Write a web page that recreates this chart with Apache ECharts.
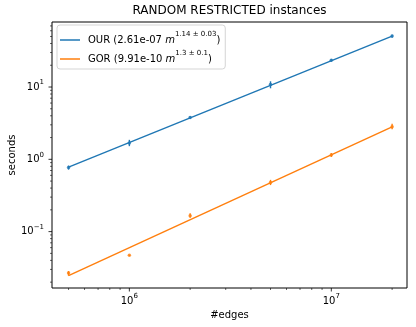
<!DOCTYPE html>
<html>
<head>
<meta charset="UTF-8">
<title>RANDOM RESTRICTED instances</title>
<script src="https://cdn.jsdelivr.net/npm/echarts@6/dist/echarts.min.js"></script>
<style>
  html, body { margin: 0; padding: 0; background: #fff; }
  #main { width: 416px; height: 327px; }
</style>
</head>
<body>
<div id="main"></div>
<script>
// number of edges in each instance size
var edges = [5e5, 1e6, 2e6, 5e6, 1e7, 2e7]

var ourTime = [0.77, 1.68, 3.8, 10.8, 23.4, 50.7]
var ourLow = [0.72, 1.52, 3.65, 9.6, 22.5, 48]
var ourHigh = [0.82, 1.86, 3.95, 12.0, 24.3, 53]

var gorTime = [0.0267, 0.047, 0.166, 0.476, 1.15, 2.83]
var gorLow = [0.0245, 0.046, 0.155, 0.44, 1.08, 2.6]
var gorHigh = [0.0285, 0.048, 0.18, 0.52, 1.22, 3.1]

// fitted power-law lines, end points
var fitX = [5e5, 2e7]
var ourFit = [0.78, 50.7]
var gorFit = [0.0246, 2.8]

// legend text
var seriesNames = ['OUR', 'GOR']
var fitCoef = ['2.61e-07', '9.91e-10']
var fitExp = ['1.14 \u00b1 0.03', '1.3 \u00b1 0.1']

// tick positions
var xMajor = [1e6, 1e7]
var xMinor = [5e5, 6e5, 7e5, 8e5, 9e5, 2e6, 3e6, 4e6, 5e6, 6e6, 7e6, 8e6, 9e6, 2e7]
var yMajor = [0.1, 1, 10]
var yMinor = [0.02, 0.03, 0.04, 0.05, 0.06, 0.07, 0.08, 0.09,
              0.2, 0.3, 0.4, 0.5, 0.6, 0.7, 0.8, 0.9,
              2, 3, 4, 5, 6, 7, 8, 9,
              20, 30, 40, 50, 60, 70]

var BLUE = '#1f77b4'
var ORANGE = '#ff7f0e'
var FONT = 'DejaVu Sans'

function zip(a, b) {
  return a.map(function (v, i) { return [v, b[i]] })
}
function zip3(a, b, c) {
  return a.map(function (v, i) { return [v, b[i], c[i]] })
}

// 10^n label, skip anything that is not a power of ten
function powLabel(v) {
  var e = Math.log10(v)
  var r = Math.round(e)
  if (Math.abs(e - r) > 1e-6) return ''
  return '{b|10}{sup|' + (r < 0 ? '\u2212' + (-r) : r) + '}'
}

function xTick(len, w) {
  return function (params, api) {
    var p = api.coord([api.value(0), 1])
    var cs = params.coordSys
    var y0 = cs.y + cs.height
    return {
      type: 'line',
      shape: { x1: p[0], y1: y0, x2: p[0], y2: y0 + len },
      style: { stroke: '#000', lineWidth: w }
    }
  }
}
function yTick(len, w) {
  return function (params, api) {
    var p = api.coord([1e6, api.value(1)])
    var x0 = params.coordSys.x
    return {
      type: 'line',
      shape: { x1: x0, y1: p[1], x2: x0 - len, y2: p[1] },
      style: { stroke: '#000', lineWidth: w }
    }
  }
}
function errBar(params, api) {
  var a = api.coord([api.value(0), api.value(1)])
  var b = api.coord([api.value(0), api.value(2)])
  return {
    type: 'line',
    shape: { x1: a[0], y1: a[1], x2: b[0], y2: b[1] },
    style: { stroke: api.visual('color'), lineWidth: 1.4 }
  }
}

function tickSeries(data, fn) {
  return {
    type: 'custom', silent: true, clip: false,
    renderItem: fn, data: data, z: 5
  }
}

// superscript: negative top padding lifts the token without growing the line
var axisRich = {
  b: { fontSize: 10, fontFamily: FONT, color: '#000', lineHeight: 12 },
  sup: { fontSize: 7, fontFamily: FONT, color: '#000', lineHeight: 12, padding: [-4.5, 0, 4.5, 0] }
}

var chart = echarts.init(document.getElementById('main'))
chart.setOption({
  animation: false,
  backgroundColor: '#fff',
  textStyle: { fontFamily: FONT },
  title: {
    text: 'RANDOM RESTRICTED instances',
    left: 229.5,
    textAlign: 'center',
    top: 5,
    padding: 0,
    textStyle: { fontFamily: FONT, fontSize: 12, fontWeight: 'normal', color: '#000' }
  },
  legend: {
    data: seriesNames,
    orient: 'vertical',
    left: 57,
    top: 25,
    padding: [6, 5, 5, 3],
    itemGap: 5,
    itemWidth: 20,
    itemHeight: 1.5,
    icon: 'rect',
    backgroundColor: 'rgba(255,255,255,0.8)',
    borderColor: '#d5d5d5',
    borderWidth: 1,
    borderRadius: 3,
    formatter: function (name) {
      var i = seriesNames.indexOf(name)
      return '{first|' + name + ' (' + fitCoef[i] + ' }{it|m}{sup|' + fitExp[i] + '}{t|)}'
    },
    textStyle: {
      fontFamily: FONT, fontSize: 10, color: '#000',
      rich: {
        first: { fontSize: 10, fontFamily: FONT, color: '#000', lineHeight: 13, padding: [0, 0, 0, 3] },
        t: { fontSize: 10, fontFamily: FONT, color: '#000', lineHeight: 13 },
        it: { fontSize: 10, fontFamily: FONT, fontStyle: 'italic', color: '#000', lineHeight: 13 },
        sup: { fontSize: 7, fontFamily: FONT, color: '#000', lineHeight: 13, padding: [-5.5, 0, 5.5, 0] }
      }
    }
  },
  grid: {
    left: 52, right: 9, top: 22, bottom: 39,
    show: true, borderColor: '#000', borderWidth: 1,
    containLabel: false,
    outerBoundsMode: 'none'
  },
  xAxis: {
    type: 'log',
    logBase: 10,
    min: 4.14e5,
    max: 2.37e7,
    name: '#edges',
    nameLocation: 'middle',
    nameGap: 20,
    nameTextStyle: { fontFamily: FONT, fontSize: 10, color: '#000' },
    axisLine: { show: false },
    axisTick: { show: false },
    splitLine: { show: false },
    axisLabel: {
      showMinLabel: false, showMaxLabel: false,
      margin: 7, color: '#000', fontFamily: FONT, fontSize: 10,
      formatter: powLabel, rich: axisRich
    }
  },
  yAxis: {
    type: 'log',
    logBase: 10,
    min: 0.0166,
    max: 79.3,
    name: 'seconds',
    nameLocation: 'middle',
    nameGap: 35,
    nameMoveOverlap: false,
    nameTextStyle: { fontFamily: FONT, fontSize: 10, color: '#000' },
    axisLine: { show: false },
    axisTick: { show: false },
    splitLine: { show: false },
    axisLabel: {
      showMinLabel: false, showMaxLabel: false,
      margin: 8, color: '#000', fontFamily: FONT, fontSize: 10,
      formatter: powLabel, rich: axisRich
    }
  },
  series: [
    {
      name: 'OUR', type: 'line', data: zip(fitX, ourFit),
      showSymbol: false, symbol: 'none', color: BLUE,
      lineStyle: { width: 1.4, color: BLUE }, z: 2
    },
    {
      name: 'GOR', type: 'line', data: zip(fitX, gorFit),
      showSymbol: false, symbol: 'none', color: ORANGE,
      lineStyle: { width: 1.4, color: ORANGE }, z: 2
    },
    {
      name: 'OUR runs', type: 'custom', renderItem: errBar, color: BLUE,
      data: zip3(edges, ourLow, ourHigh), encode: { x: 0, y: [1, 2] }, silent: true, z: 3
    },
    {
      name: 'GOR runs', type: 'custom', renderItem: errBar, color: ORANGE,
      data: zip3(edges, gorLow, gorHigh), encode: { x: 0, y: [1, 2] }, silent: true, z: 3
    },
    {
      name: 'OUR mean', type: 'scatter', data: zip(edges, ourTime),
      symbolSize: 3.5, itemStyle: { color: BLUE }, silent: true, z: 4
    },
    {
      name: 'GOR mean', type: 'scatter', data: zip(edges, gorTime),
      symbolSize: 3.5, itemStyle: { color: ORANGE }, silent: true, z: 4
    },
    tickSeries(xMajor.map(function (v) { return [v, 1] }), xTick(3.5, 0.8)),
    tickSeries(xMinor.map(function (v) { return [v, 1] }), xTick(2, 0.6)),
    tickSeries(yMajor.map(function (v) { return [1e6, v] }), yTick(3.5, 0.8)),
    tickSeries(yMinor.map(function (v) { return [1e6, v] }), yTick(2, 0.6))
  ]
})
</script>
</body>
</html>
